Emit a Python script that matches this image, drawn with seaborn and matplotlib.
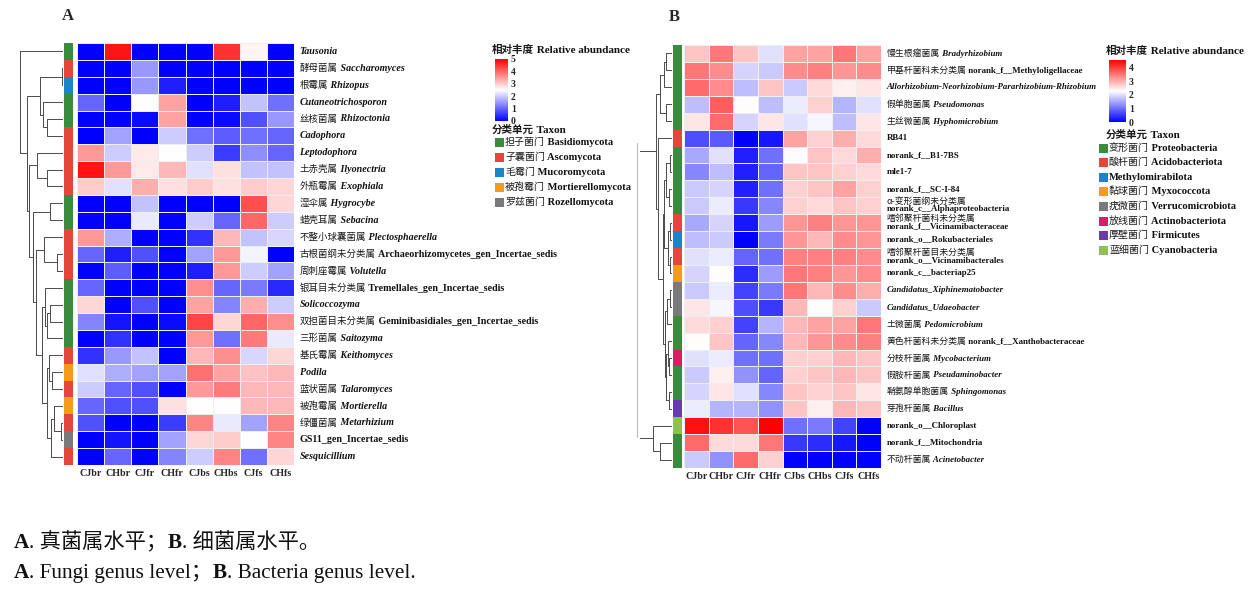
import numpy as np
import pandas as pd
import matplotlib
matplotlib.use('Agg')
import matplotlib.pyplot as plt
import seaborn as sns
from matplotlib.colors import LinearSegmentedColormap, ListedColormap
from matplotlib.patches import Rectangle

# ---------------- data ----------------
samples = ["CJbr", "CHbr", "CJfr", "CHfr", "CJbs", "CHbs", "CJfs", "CHfs"]

fungi_cn = ["", "酵母菌属", "根霉属", "", "丝核菌属", "", "", "土赤壳属", "外瓶霉属",
            "湿伞属", "蜡壳耳属", "不整小球囊菌属", "古根菌纲未分类属", "周刺座霉属",
            "银耳目未分类属", "", "双担菌目未分类属", "三形菌属", "基氏霉属", "",
            "蓝状菌属", "被孢霉属", "绿僵菌属", "", ""]
fungi_latin = ["Tausonia", "Saccharomyces", "Rhizopus", "Cutaneotrichosporon", "Rhizoctonia",
               "Cadophora", "Leptodophora", "Ilyonectria", "Exophiala", "Hygrocybe", "Sebacina",
               "Plectosphaerella", "Archaeorhizomycetes_gen_Incertae_sedis", "Volutella",
               "Tremellales_gen_Incertae_sedis", "Solicoccozyma",
               "Geminibasidiales_gen_Incertae_sedis", "Saitozyma", "Keithomyces", "Podila",
               "Talaromyces", "Mortierella", "Metarhizium", "GS11_gen_Incertae_sedis",
               "Sesquicillium"]
fungi_abund = [
    [0.0, 4.8, 0.0, 0.0, 0.0, 4.5, 2.6, 0.0],
    [0.0, 0.0, 1.5, 0.0, 0.0, 0.0, 0.0, 0.0],
    [0.0, 0.0, 1.5, 0.3, 0.0, 0.0, 0.0, 0.0],
    [1.0, 0.0, 2.5, 3.4, 0.0, 0.3, 1.9, 1.1],
    [0.0, 0.0, 0.1, 3.4, 0.0, 0.1, 0.8, 1.5],
    [0.0, 1.6, 0.0, 2.0, 1.1, 0.9, 1.1, 1.0],
    [3.5, 2.0, 2.7, 2.5, 2.0, 0.6, 1.4, 1.0],
    [4.8, 3.5, 2.7, 3.2, 2.2, 2.8, 1.9, 1.9],
    [3.0, 2.2, 3.3, 2.8, 3.0, 2.8, 3.0, 2.9],
    [0.0, 0.0, 1.9, 0.0, 0.0, 0.0, 4.2, 2.9],
    [0.0, 0.0, 2.3, 0.0, 2.0, 1.0, 4.0, 2.0],
    [3.5, 1.7, 0.0, 0.0, 0.5, 3.2, 1.9, 2.1],
    [1.0, 0.3, 0.8, 0.0, 1.6, 3.5, 2.4, 0.0],
    [0.0, 0.9, 0.0, 0.0, 0.3, 3.5, 2.0, 1.6],
    [1.0, 0.0, 0.0, 0.0, 3.6, 1.0, 1.2, 0.4],
    [2.9, 0.0, 0.8, 0.0, 3.4, 1.3, 3.3, 2.0],
    [1.3, 0.2, 0.0, 0.1, 4.3, 2.9, 4.0, 3.6],
    [0.0, 0.5, 0.0, 0.0, 3.5, 1.1, 3.8, 2.3],
    [0.5, 1.5, 1.9, 0.0, 3.2, 3.6, 2.1, 2.9],
    [2.2, 1.7, 1.6, 1.6, 3.9, 3.4, 3.1, 3.2],
    [2.0, 1.0, 0.8, 0.0, 3.5, 3.8, 3.2, 3.2],
    [1.0, 0.8, 0.8, 2.8, 2.5, 2.5, 3.2, 3.2],
    [0.8, 0.0, 0.0, 0.6, 3.7, 2.3, 1.6, 3.7],
    [0.0, 0.2, 0.0, 1.6, 2.9, 3.0, 2.5, 3.7],
    [0.0, 1.0, 0.0, 1.3, 2.0, 3.7, 1.1, 2.9],
]
fungi_phyla = [("担子菌门", "Basidiomycota"), ("子囊菌门", "Ascomycota"), ("毛霉门", "Mucoromycota"),
               ("被孢霉门", "Mortierellomycota"), ("罗兹菌门", "Rozellomycota")]
fungi_phylum_of_row = [0, 1, 2, 0, 0, 1, 1, 1, 1, 0, 0, 1, 1, 1, 0, 0, 0, 0, 1, 3, 1, 3, 1, 4, 1]

bact_cn = ["慢生根瘤菌属", "甲基杆菌科未分类属", "", "假单胞菌属", "生丝微菌属", "", "", "", "",
           "α-变形菌纲未分类属", "嗜邻聚杆菌科未分类属", "", "嗜邻聚杆菌目未分类属", "", "", "",
           "土微菌属", "黄色杆菌科未分类属", "分枝杆菌属", "假胺杆菌属", "鞘氨醇单胞菌属",
           "芽孢杆菌属", "", "", "不动杆菌属"]
bact_latin = ["Bradyrhizobium", "norank_f__Methyloligellaceae",
              "Allorhizobium-Neorhizobium-Pararhizobium-Rhizobium", "Pseudomonas", "Hyphomicrobium",
              "RB41", "norank_f__B1-7BS", "mle1-7", "norank_f__SC-I-84",
              "norank_c__Alphaproteobacteria", "norank_f__Vicinamibacteraceae",
              "norank_o__Rokubacteriales", "norank_o__Vicinamibacterales", "norank_c__bacteriap25",
              "Candidatus_Xiphinematobacter", "Candidatus_Udaeobacter", "Pedomicrobium",
              "norank_f__Xanthobacteraceae", "Mycobacterium", "Pseudaminobacter", "Sphingomonas",
              "Bacillus", "norank_o__Chloroplast", "norank_f__Mitochondria", "Acinetobacter"]
bact_abund = [
    [2.8, 3.5, 2.8, 2.0, 3.1, 3.1, 3.5, 3.1],
    [3.5, 3.3, 1.9, 1.8, 3.3, 3.4, 3.2, 3.3],
    [3.6, 3.3, 1.7, 2.8, 1.8, 2.6, 2.4, 2.5],
    [1.7, 3.7, 2.3, 1.7, 2.1, 2.7, 1.6, 2.0],
    [2.5, 3.6, 1.9, 2.5, 2.0, 2.2, 1.7, 2.5],
    [0.7, 0.8, 0.0, 0.2, 3.1, 2.7, 3.0, 2.6],
    [1.5, 2.0, 0.3, 1.0, 2.3, 2.8, 2.6, 3.0],
    [1.2, 1.7, 0.3, 0.9, 2.8, 2.8, 2.7, 2.6],
    [1.8, 1.9, 0.3, 1.0, 2.7, 2.8, 3.1, 2.7],
    [1.8, 2.1, 0.5, 1.2, 2.7, 2.6, 2.8, 2.7],
    [1.5, 1.9, 0.2, 1.4, 3.2, 3.4, 3.2, 3.2],
    [1.7, 1.8, 0.0, 1.1, 3.2, 2.9, 3.3, 3.2],
    [2.0, 2.1, 0.9, 1.0, 3.4, 3.4, 3.4, 3.3],
    [1.9, 2.3, 0.4, 1.4, 3.5, 3.4, 3.2, 3.3],
    [1.8, 2.1, 0.6, 1.1, 3.5, 2.9, 3.3, 3.0],
    [2.5, 2.2, 0.7, 0.5, 2.9, 2.3, 2.7, 1.8],
    [2.6, 2.7, 0.6, 1.6, 2.9, 3.1, 3.1, 3.5],
    [2.3, 2.8, 0.9, 1.2, 2.9, 3.2, 3.3, 3.4],
    [2.0, 2.1, 1.0, 1.0, 2.7, 2.7, 2.9, 2.8],
    [1.8, 2.4, 1.3, 0.9, 2.7, 2.8, 2.9, 2.8],
    [1.9, 2.5, 2.0, 1.2, 2.8, 2.7, 2.8, 2.5],
    [2.1, 1.6, 1.6, 1.3, 2.8, 2.4, 2.9, 2.8],
    [4.4, 4.1, 3.8, 4.55, 1.0, 1.1, 0.6, 0.0],
    [3.6, 2.6, 2.6, 3.5, 0.5, 0.4, 0.2, 0.0],
    [1.8, 1.3, 3.6, 2.7, 0.0, 0.0, 0.0, 0.0],
]
bact_phyla = [("变形菌门", "Proteobacteria"), ("酸杆菌门", "Acidobacteriota"), ("", "Methylomirabilota"),
              ("黏球菌门", "Myxococcota"), ("疣微菌门", "Verrucomicrobiota"),
              ("放线菌门", "Actinobacteriota"), ("厚壁菌门", "Firmicutes"), ("蓝细菌门", "Cyanobacteria")]
bact_phylum_of_row = [0, 0, 0, 0, 0, 1, 0, 0, 0, 0, 1, 2, 1, 3, 4, 4, 0, 0, 5, 0, 0, 6, 7, 0, 0]

# row clustering trees: (left, right, merge height), leaves = row index
f12 = (1, 2, 0.02)
f45 = (4, 5, 0.38)
f35 = (3, f45, 0.46)
f15 = (f12, f35, 0.54)
f78 = (7, 8, 0.38)
f68 = (6, f78, 0.60)
f910 = (9, 10, 0.31)
f1213 = (12, 13, 0.15)
f1113 = (11, f1213, 0.45)
f1516 = (15, 16, 0.30)
f1517 = (f1516, 17, 0.38)
f1417 = (14, f1517, 0.42)
f1920 = (19, 20, 0.25)
f1820 = (18, f1920, 0.33)
f2223 = (22, 23, 0.05)
f2123 = (21, f2223, 0.20)
f2124 = (f2123, 24, 0.28)
f1824 = (f1820, f2124, 0.38)
f1424 = (f1417, f1824, 0.50)
f1124 = (f1113, f1424, 0.62)
f924 = (f910, f1124, 0.69)
f624 = (f68, f924, 0.80)
f124 = (f15, f624, 0.83)
fungi_tree = (0, f124, 1.0)

b01 = (0, 1, 0.18)
b02 = (b01, 2, 0.23)
b34 = (3, 4, 0.18)
b04 = (b02, b34, 0.36)
b67 = (6, 7, 0.07)
b89 = (8, 9, 0.09)
b69 = (b67, b89, 0.18)
b1011 = (10, 11, 0.05)
b1213 = (12, 13, 0.07)
b1013 = (b1011, b1213, 0.12)
b613 = (b69, b1013, 0.23)
b1415 = (14, 15, 0.07)
b1416 = (b1415, 16, 0.15)
b1819 = (18, 19, 0.09)
b1719 = (17, b1819, 0.12)
b2021 = (20, 21, 0.09)
b1721 = (b1719, b2021, 0.18)
b1421 = (b1416, b1721, 0.22)
b621 = (b613, b1421, 0.28)
b521 = (5, b621, 0.43)
b021 = (b04, b521, 0.48)
b2324 = (23, 24, 0.38)
b2224 = (22, b2324, 0.59)
bact_tree = (b021, b2224, 1.0)

# ---------------- style ----------------
sns.set_theme(style="white")
SERIF = ['Liberation Serif', 'Noto Sans CJK SC']
CJK = ['Noto Sans CJK SC', 'DejaVu Sans']
plt.rcParams['font.family'] = SERIF

W, H = 1253, 596
fig = plt.figure(figsize=(W / 100, H / 100), dpi=100)

def box(x0, y0, x1, y1):
    return [x0 / W, 1 - y1 / H, (x1 - x0) / W, (y1 - y0) / H]

overlay = fig.add_axes([0, 0, 1, 1], zorder=-5)
overlay.set_xlim(0, W)
overlay.set_ylim(H, 0)
overlay.axis('off')

heat_cmap = LinearSegmentedColormap.from_list("bwr_pure", ["#0000ff", "#ffffff", "#ff0000"])
fungi_colors = ['#3b8b3f', '#e5463b', '#1b86c7', '#f39b1c', '#7a7a7a']
bact_colors = ['#3b8b3f', '#e5463b', '#1b86c7', '#f39b1c', '#7a7a7a', '#d71f63', '#6a3bb0', '#8dc24d']


def is_italic(name):
    return not (name.startswith('norank') or 'gen_Incertae' in name
                or any(ch.isdigit() for ch in name))


def chain(ax, xy, xycoords, parts, offset=(0, 0)):
    prev = None
    for s, props in parts:
        if not s:
            continue
        if prev is None:
            prev = ax.annotate(s, xy=xy, xycoords=xycoords, xytext=offset,
                               textcoords='offset points', ha='left', va='center',
                               annotation_clip=False, **props)
        else:
            prev = ax.annotate(s, xy=(1, 0), xycoords=prev, ha='left', va='bottom',
                               annotation_clip=False, **props)
    return prev


def draw_tree(ax, node):
    if isinstance(node, int):
        return node + 0.5, 0.0
    left, right, h = node
    yl, hl = draw_tree(ax, left)
    yr, hr = draw_tree(ax, right)
    ax.plot([hl, h, h, hr], [yl, yl, yr, yr], color='#4a4a4a', lw=0.7)
    return (yl + yr) / 2, h


def panel(values, cn, latin, phylum_of_row, colors, tree, vmax, ticks,
          hm_box, bar_box, den_box, den_lim, cax_box, cjk_size, lat_size, stacked=()):
    df = pd.DataFrame(values, columns=samples)
    n = len(df)

    cax = fig.add_axes(box(*cax_box))
    ax = fig.add_axes(box(*hm_box))
    sns.heatmap(df, ax=ax, cmap=heat_cmap, vmin=0, vmax=vmax, linewidths=0.5,
                linecolor='#eeeeee', cbar_ax=cax, cbar_kws={'ticks': ticks},
                xticklabels=samples, yticklabels=False)
    ax.set_xticklabels(samples, rotation=0, fontfamily='Liberation Serif',
                       fontweight='bold', fontsize=7.2)
    ax.tick_params(axis='x', length=0, pad=3)

    cb = ax.collections[0].colorbar
    cb.outline.set_visible(False)
    cax.tick_params(length=0, pad=2, labelsize=7)
    for t in cax.get_yticklabels():
        t.set_fontweight('bold')
        t.set_fontfamily('Liberation Serif')

    # phylum side bar
    bax = fig.add_axes(box(*bar_box))
    sns.heatmap(np.array(phylum_of_row).reshape(-1, 1), ax=bax,
                cmap=ListedColormap(colors), vmin=-0.5, vmax=len(colors) - 0.5,
                cbar=False, xticklabels=False, yticklabels=False)

    # dendrogram
    dax = fig.add_axes(box(*den_box))
    draw_tree(dax, tree)
    dax.set_xlim(den_lim, 0)
    dax.set_ylim(n, 0)
    dax.axis('off')

    cjk_p = dict(fontfamily=CJK, fontsize=cjk_size, color='#1a1a1a')
    for i in range(n):
        lat_p = dict(fontfamily=SERIF, fontsize=lat_size, fontweight='bold', color='#111111',
                     fontstyle='italic' if is_italic(latin[i]) else 'normal')
        if i in stacked:
            chain(ax, (1, i + 0.5), ('axes fraction', 'data'), [(cn[i], cjk_p)], offset=(4, 3.2))
            chain(ax, (1, i + 0.5), ('axes fraction', 'data'), [(latin[i], lat_p)], offset=(4, -2.6))
        else:
            lat = (' ' + latin[i]) if cn[i] else latin[i]
            chain(ax, (1, i + 0.5), ('axes fraction', 'data'),
                  [(cn[i], cjk_p), (lat, lat_p)], offset=(4, 0))
    return ax


panel(fungi_abund, fungi_cn, fungi_latin, fungi_phylum_of_row, fungi_colors, fungi_tree,
      5, [0, 1, 2, 3, 4, 5], (77, 43, 294, 465), (64, 43, 73, 465), (18, 43, 63, 465), 1.05,
      (495, 59, 508, 121), 6.8, 7.2)
panel(bact_abund, bact_cn, bact_latin, bact_phylum_of_row, bact_colors, bact_tree,
      4.55, [0, 1, 2, 3, 4], (684, 45, 881, 468), (673, 45, 682, 468), (640, 45, 672, 468), 0.98,
      (1109, 60, 1126, 122), 6.4, 6.4, stacked=(9, 10, 12))

# panel letters
overlay.text(62, 16, "A", fontfamily='Liberation Serif', fontweight='bold', fontsize=12, va='center')
overlay.text(669, 17, "B", fontfamily='Liberation Serif', fontweight='bold', fontsize=12, va='center')

# legends
leg_cjk = dict(fontfamily=CJK, fontsize=7.2, color='#1a1a1a')
leg_lat = dict(fontfamily=SERIF, fontsize=7.6, fontweight='bold', color='#111111')
leg_cjk_b = dict(fontfamily=CJK, fontsize=7.6, fontweight='bold', color='#1a1a1a')
leg_lat_b = dict(fontfamily=SERIF, fontsize=8.0, fontweight='bold', color='#111111')


def legend_block(x_title, y_cb_title, y_tax_title, x_sq, y_rows, phyla, colors):
    chain(overlay, (x_title, y_cb_title), 'data',
          [("相对丰度", leg_cjk_b), (" Relative abundance", leg_lat_b)])
    chain(overlay, (x_title, y_tax_title), 'data',
          [("分类单元", leg_cjk_b), (" Taxon", leg_lat_b)])
    for (cn, lat), col, yc in zip(phyla, colors, y_rows):
        overlay.add_patch(Rectangle((x_sq, yc - 4.5), 9, 9, facecolor=col, edgecolor='none'))
        chain(overlay, (x_sq + 10, yc), 'data',
              [(cn, leg_cjk), ((' ' + lat) if cn else lat, leg_lat)])


legend_block(492, 50, 130, 495, [142, 157, 172, 187, 202], fungi_phyla, fungi_colors)
legend_block(1106, 51, 135, 1099, [148, 162, 177, 191, 206, 221, 235, 250], bact_phyla, bact_colors)

# faint frame edge between the panels
overlay.plot([637, 637], [143, 437], color='#bdbdbd', lw=0.8)

# caption
cap_b = dict(fontfamily=SERIF, fontsize=15.3, fontweight='bold', color='#111111')
cap_r = dict(fontfamily=SERIF, fontsize=15.3, color='#111111')
chain(overlay, (14, 543), 'data',
      [("A", cap_b), (". 真菌属水平；", cap_r), ("B", cap_b), (". 细菌属水平。", cap_r)])
chain(overlay, (14, 573), 'data',
      [("A", cap_b), (". Fungi genus level；", cap_r), ("B", cap_b), (". Bacteria genus level.", cap_r)])

fig.savefig("out.png", dpi=100, facecolor='white')
